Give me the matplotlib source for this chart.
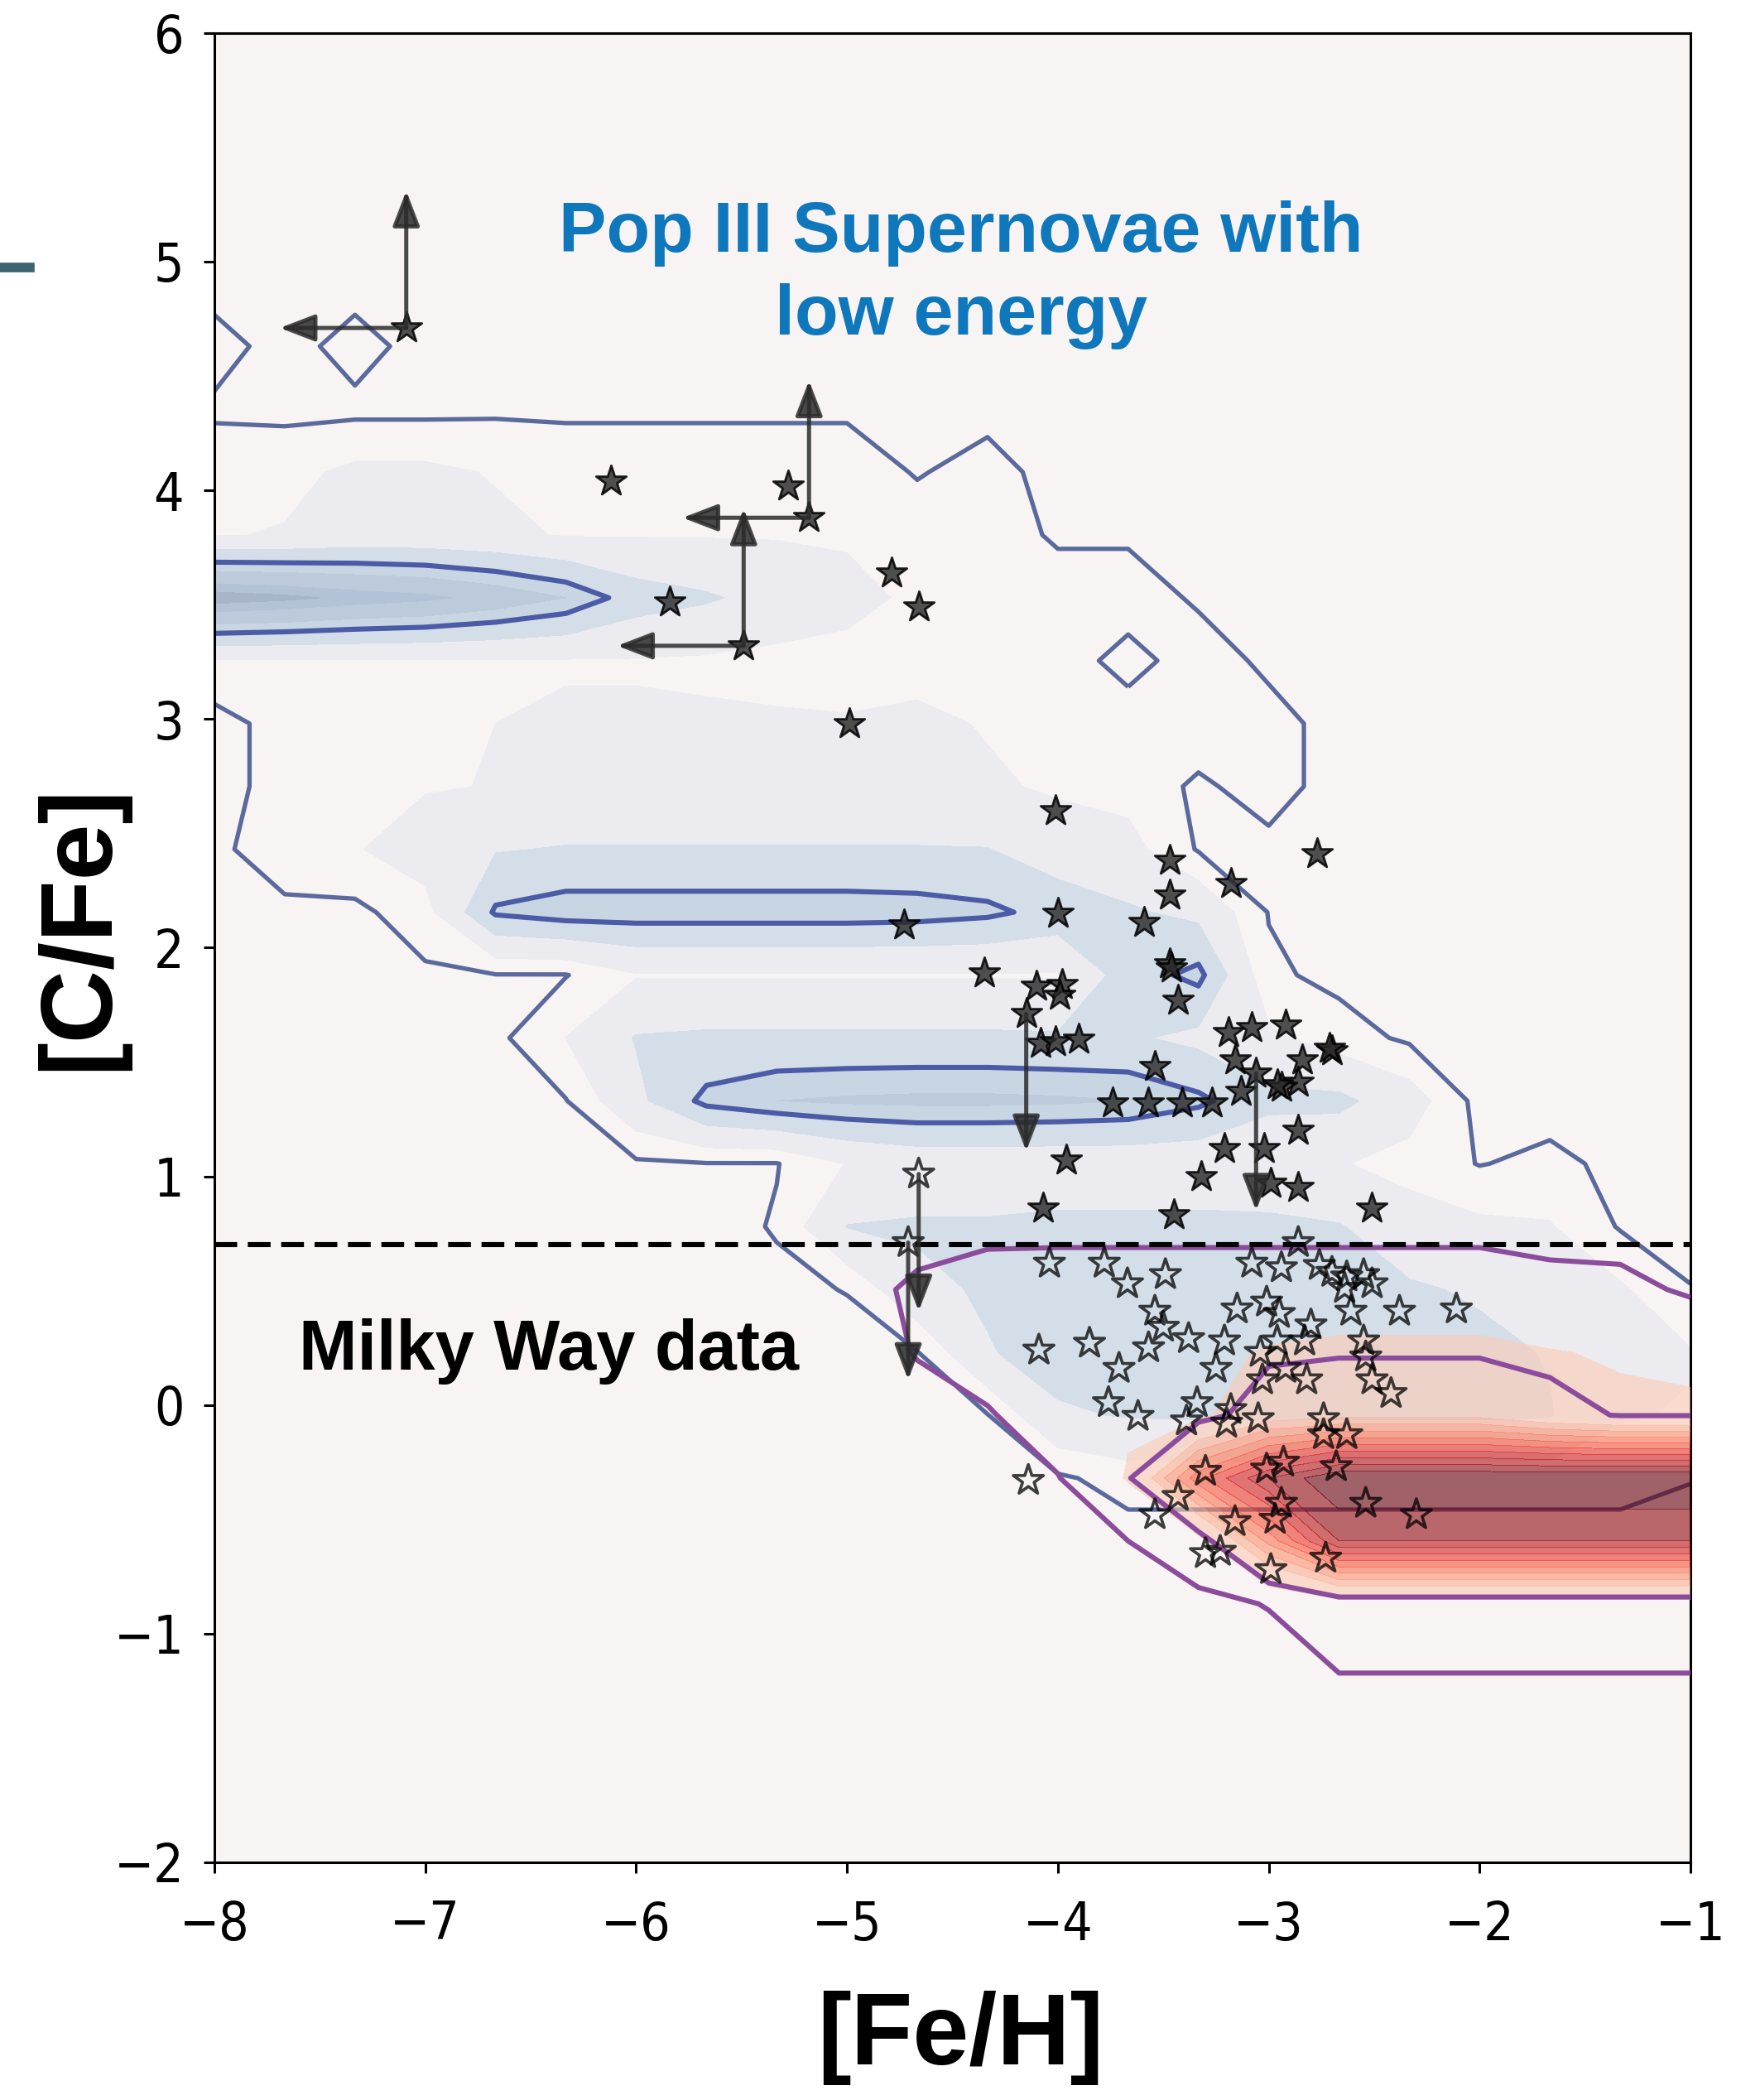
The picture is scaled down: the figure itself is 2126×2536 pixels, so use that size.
import numpy as np
import matplotlib
matplotlib.use("Agg")
import matplotlib.pyplot as plt
from matplotlib.lines import Line2D

# grid of the model maps: [Fe/H] columns, [C/Fe] rows (top row first)
feh_grid = np.linspace(-8.0, -1.0, 22)
cfe_grid = 5.455 - 0.275 * np.arange(27)

# Pop III low energy supernovae, relative density on the grid
popiii_rows = [
    "0 0 0 0 0 0 0 0 0 0 0 0 0 0 0 0 0 0 0 0 0 0",
    "0 0 0 0 0 0 0 0 0 0 0 0 0 0 0 0 0 0 0 0 0 0",
    "0 0 0 0 0 0 0 0 0 0 0 0 0 0 0 0 0 0 0 0 0 0",
    "1 0 1 0 0 0 0 0 0 0 0 0 0 0 0 0 0 0 0 0 0 0",
    ".3 .2 .2 .2 .3 .3 .3 .3 .3 .3 .1 .1 0 0 0 0 0 0 0 0 0 0",
    "1.2 1.3 2 2 1.6 1.2 1.2 1.2 1.2 1.2 .4 1 0 0 0 0 0 0 0 0 0 0",
    "1.6 1.8 2.2 2.2 2 1.6 1.6 1.6 1.6 1.5 1.2 1.2 .3 .3 0 0 0 0 0 0 0 0",
    "9.2 8.8 8.2 7.8 7 6 4.2 3.6 2.8 2.2 1.4 1.2 1.2 1.2 .3 0 0 0 0 0 0 0",
    "1.6 1.6 1.6 1.6 1.6 1.6 1.6 1.5 1.3 1.2 1.2 1.2 1.2 0 1.2 .2 0 0 0 0 0 0",
    "0 1 1 1.2 1.7 1.85 1.85 1.85 1.85 1.8 2 1.6 1.2 1.2 1.2 1 0 0 0 0 0 0",
    "0 1 1.2 1.6 1.75 2 2 2 2 2 1.9 1.9 1.5 1.2 .3 1 0 0 0 0 0 0",
    ".3 1 1.6 2.4 3.3 3.5 3.5 3.5 3.5 3.5 3.5 3.45 2.5 2.2 .4 .2 0 0 0 0 0 0",
    "0 .3 .2 1.2 5.1 5.6 5.6 5.6 5.6 5.6 5.5 5.2 4.4 3.6 3 .45 0 0 0 0 0 0",
    "0 0 0 .3 .45 .45 1.6 1.6 1.6 1.6 1.6 1.6 1.6 4.2 5.3 .7 .2 0 0 0 0 0",
    "0 0 0 0 .2 1.72 3.5 3.67 3.67 3.67 3.67 3.67 3.6 3.6 3 2 1 .3 0 0 0 0",
    "0 0 0 0 0 .45 3 5.3 6 6.2 6.3 6.3 6.2 6 5.2 3.8 3.8 2.4 .1 0 0 0",
    "0 0 0 0 0 0 .3 .45 .45 1.75 2.3 2.3 2.3 2.3 2.3 2 1.8 1.2 .45 .8 .2 0",
    "0 0 0 0 0 0 0 0 .6 3.45 3.6 3.6 3.8 3.8 3.8 3.8 3.5 2.4 2 1.8 .4 .3",
    "0 0 0 0 0 0 0 0 .2 .55 3 3.6 4 4 4 4 3.8 3.6 3.2 2.2 1.9 .52",
    "0 0 0 0 0 0 0 0 0 0 .45 3.3 4 4.2 4.2 4.2 4.2 4 3.8 3.3 2 1.8",
    "0 0 0 0 0 0 0 0 0 0 0 .45 3.2 3.5 3.6 3.6 3.6 3.6 3.6 3.5 1.8 1.6",
    "0 0 0 0 0 0 0 0 0 0 0 0 .3 1 1 1 1 1 1 1 1 .55",
    "0 0 0 0 0 0 0 0 0 0 0 0 0 0 0 0 0 0 0 0 0 0",
    "0 0 0 0 0 0 0 0 0 0 0 0 0 0 0 0 0 0 0 0 0 0",
    "0 0 0 0 0 0 0 0 0 0 0 0 0 0 0 0 0 0 0 0 0 0",
    "0 0 0 0 0 0 0 0 0 0 0 0 0 0 0 0 0 0 0 0 0 0",
    "0 0 0 0 0 0 0 0 0 0 0 0 0 0 0 0 0 0 0 0 0 0",
]

# Milky Way (normal supernovae) model density on the same grid
halo_rows = [
    "0 0 0 0 0 0 0 0 0 0 0 0 0 0 0 0 0 0 0 0 0 0",
] * 18 + [
    "0 0 0 0 0 0 0 0 0 0 1.3 2.5 2.7 2.7 2.7 2.7 2.7 2.7 2.7 1.7 1.5 .6",
    "0 0 0 0 0 0 0 0 0 0 1 2 3 3.2 3.2 3.6 3.8 3.8 3.8 3.6 3.3 3",
    "0 0 0 0 0 0 0 0 0 0 .2 .7 2.2 3.2 3 5.4 6 6 6 4.6 3.9 3.9",
    "0 0 0 0 0 0 0 0 0 0 0 0 .8 3.7 12 17 20 20 20 20 20 20",
    "0 0 0 0 0 0 0 0 0 0 0 0 0 .9 2.6 10 17 17 17 17 17 17",
    "0 0 0 0 0 0 0 0 0 0 0 0 0 0 .3 1 2.4 2.4 2.4 2.4 2.4 2.4",
    "0 0 0 0 0 0 0 0 0 0 0 0 0 0 0 0 1 1 1 1 1 1",
    "0 0 0 0 0 0 0 0 0 0 0 0 0 0 0 0 0 0 0 0 0 0",
    "0 0 0 0 0 0 0 0 0 0 0 0 0 0 0 0 0 0 0 0 0 0",
]

# carbon enhanced stars (filled)
cemp_feh = [-6.12, -5.28, -5.84, -4.79, -4.66, -4.99, -4.01, -4.73, -2.77, -3.47,
            -3.18, -3.47, -4.00, -3.59, -4.35, -3.47, -3.46, -4.10, -3.98, -3.99,
            -3.43, -4.08, -4.01, -3.90, -3.19, -3.08, -2.92, -2.70, -2.71, -3.16,
            -2.84, -2.86, -2.94, -2.96, -3.54, -3.74, -3.57, -3.41, -3.27, -3.13,
            -2.86, -3.21, -3.02, -3.96, -3.32, -2.99, -2.86, -4.07, -3.45, -2.51]
cemp_cfe = [4.04, 4.02, 3.51, 3.64, 3.49, 2.98, 2.60, 2.10, 2.41, 2.38,
            2.28, 2.23, 2.15, 2.11, 1.89, 1.93, 1.91, 1.83, 1.84, 1.79,
            1.77, 1.58, 1.59, 1.60, 1.63, 1.65, 1.66, 1.55, 1.56, 1.51,
            1.51, 1.41, 1.39, 1.40, 1.48, 1.32, 1.32, 1.32, 1.32, 1.37,
            1.20, 1.12, 1.12, 1.07, 1.00, 0.97, 0.95, 0.86, 0.83, 0.86]

# stars with upper limit on [Fe/H] and lower limit on [C/Fe]
lim_feh = [-7.09, -5.18, -5.49]
lim_cfe = [4.71, 3.88, 3.32]
# upper limits on [C/Fe]
ul_feh = [-4.15, -3.06]
ul_cfe = [1.71, 1.45]
ul_open_feh = [-4.66, -4.71]
ul_open_cfe = [1.01, 0.71]

# carbon normal stars (open)
normal_feh = [-4.04, -3.78, -3.67, -3.49, -3.08, -2.94, -2.86, -2.76, -2.70, -2.63,
              -2.55, -2.51, -2.64, -3.54, -3.15, -3.01, -2.95, -2.80, -2.61, -2.38,
              -2.11, -3.50, -3.38, -3.21, -4.09, -3.85, -3.57, -3.04, -2.96, -2.83,
              -2.55, -2.54, -3.71, -3.25, -3.03, -2.92, -2.82, -2.51, -2.42, -3.76,
              -3.62, -3.39, -3.34, -3.18, -3.20, -3.05, -2.74, -2.63, -2.74, -3.30,
              -3.01, -2.93, -2.68, -4.14, -3.43, -2.94, -2.54, -3.54, -3.16, -2.97,
              -2.30, -3.30, -3.23, -2.99, -2.73]
normal_cfe = [0.62, 0.62, 0.53, 0.57, 0.62, 0.60, 0.71, 0.61, 0.58, 0.56,
              0.57, 0.53, 0.51, 0.41, 0.42, 0.45, 0.40, 0.35, 0.41, 0.41,
              0.42, 0.34, 0.29, 0.28, 0.24, 0.27, 0.25, 0.23, 0.28, 0.28,
              0.28, 0.21, 0.16, 0.16, 0.11, 0.16, 0.11, 0.11, 0.05, 0.01,
              -0.05, -0.07, 0.01, -0.02, -0.08, -0.06, -0.06, -0.13, -0.13, -0.29,
              -0.28, -0.25, -0.27, -0.33, -0.40, -0.43, -0.43, -0.48, -0.51, -0.50,
              -0.48, -0.65, -0.64, -0.72, -0.67]

cemp_cut = 0.7
arrow_len = 0.6

popiii = np.array([r.split() for r in popiii_rows], dtype=float)[::-1]
halo = np.array([r.split() for r in halo_rows], dtype=float)[::-1]
cfe_up = cfe_grid[::-1]

fig = plt.figure(figsize=(10.63, 12.68), dpi=200)
ax = fig.add_axes([0.1218, 0.1132, 0.8387, 0.8711])
ax.set_facecolor("#f8f4f3")

# Pop III map
blue_fill = ["#ebebf0", "#d4dee8", "#c8d6e4", "#bccadb", "#b3c2d6", "#a8b4c8"]
ax.contourf(feh_grid, cfe_up, popiii, levels=[1.7, 3.4, 4.9, 6.0, 7.5, 8.5, 10],
            colors=blue_fill, zorder=1)
ax.contour(feh_grid, cfe_up, popiii, levels=[0.5], colors="#5b6a9c",
           linewidths=1.9, zorder=2)
ax.contour(feh_grid, cfe_up, popiii, levels=[4.9], colors="#4b5ba6",
           linewidths=2.2, zorder=2)

# Milky Way map
red_fill = plt.cm.Reds(np.linspace(0.2, 1.0, 10))
ax.contourf(feh_grid, cfe_up, halo,
            levels=[3.5, 6.5, 8, 9.5, 11, 12.5, 14, 15.5, 17, 18.5, 21],
            colors=red_fill, alpha=0.6, zorder=3)
ax.contour(feh_grid, cfe_up, halo, levels=[0.9, 4.0], colors="#8c4c9c",
           linewidths=2.2, zorder=4)

ax.axhline(cemp_cut, color="k", lw=2.2, dashes=(4.5, 2.1), zorder=5)

# stars
ax.scatter(cemp_feh + lim_feh + ul_feh, cemp_cfe + lim_cfe + ul_cfe, marker="*", s=190,
           facecolor=(0.15, 0.15, 0.15, 0.8), edgecolor=(0, 0, 0, 0.85), lw=1.0, zorder=6)
ax.scatter(normal_feh + ul_open_feh, normal_cfe + ul_open_cfe, marker="*", s=190,
           facecolor="none", edgecolor=(0, 0, 0, 0.75), lw=1.3, zorder=6)


def arrow(x0, y0, dx, dy):
    ax.annotate("", xy=(x0 + dx, y0 + dy), xytext=(x0, y0), zorder=6,
                arrowprops=dict(arrowstyle="-|>,head_length=0.65,head_width=0.25",
                                mutation_scale=20, lw=1.8, color="#2b2b2b", alpha=0.85,
                                shrinkA=0, shrinkB=0))


for x, y in zip(lim_feh, lim_cfe):
    arrow(x, y, 0, arrow_len)
    arrow(x, y, -arrow_len, 0)
for x, y in zip(ul_feh + ul_open_feh, ul_cfe + ul_open_cfe):
    arrow(x, y, 0, -arrow_len)

# labels
ax.text(-4.46, 5.044, "Pop III Supernovae with", color="#0f77bb", fontsize=31,
        fontweight="bold", family="Liberation Sans", ha="center", va="baseline", zorder=7)
ax.text(-4.46, 4.68, "low energy", color="#0f77bb", fontsize=31,
        fontweight="bold", family="Liberation Sans", ha="center", va="baseline", zorder=7)
ax.text(-7.60, 0.154, "Milky Way data", color="k", fontsize=30.5,
        fontweight="bold", family="Liberation Sans", ha="left", va="baseline", zorder=7)

ax.set_xlim(-8, -1)
ax.set_ylim(-2, 6)
ax.set_xticks(np.arange(-8, 0))
ax.set_yticks(np.arange(-2, 7))
for lab in ax.get_xticklabels() + ax.get_yticklabels():
    lab.set_fontfamily("DejaVu Sans")
    lab.set_fontstretch("condensed")
ax.tick_params(axis="both", direction="out", length=4.7, width=1.1, labelsize=23)
ax.tick_params(axis="x", pad=11.5)
ax.tick_params(axis="y", pad=8.5)
for sp in ax.spines.values():
    sp.set_linewidth(1.1)

ax.set_xlabel("[Fe/H]", fontsize=44, fontweight="bold", family="Liberation Sans", va="center")
ax.xaxis.set_label_coords(0.5053, -0.096)
ax.set_ylabel("[C/Fe]", fontsize=44, fontweight="bold", family="Liberation Sans",
              va="center", ha="center")
ax.yaxis.set_label_coords(-0.0909, 0.511)

# stray mark at the left edge of the slide
fig.add_artist(Line2D([0, 0.017], [0.8726, 0.8726], color="#3e6472", lw=4.2,
                      transform=fig.transFigure))

fig.savefig("out.png", dpi=200, facecolor="white")
